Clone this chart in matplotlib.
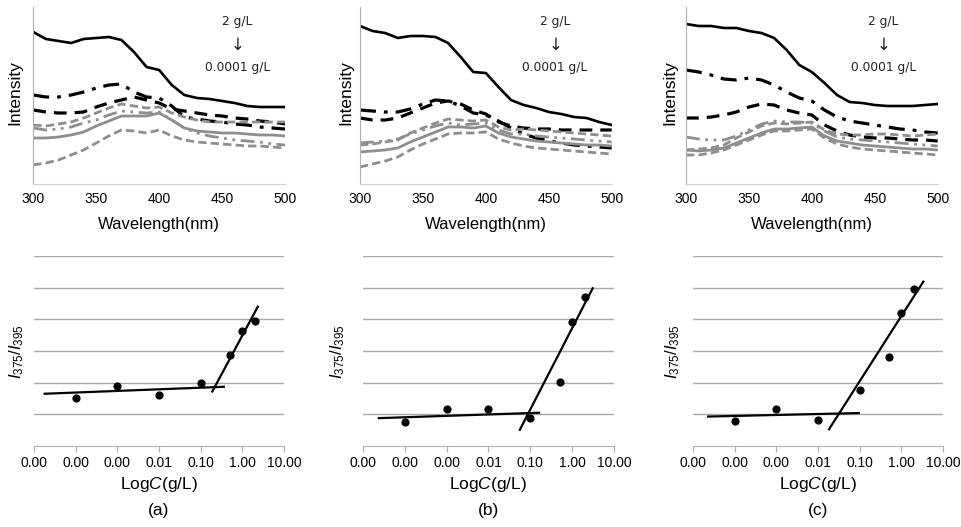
"""
Fluorescence spectra and I375/I395 ratio plots, three samples (a)-(c).
"""

import numpy as np
import matplotlib
matplotlib.use('Agg')
import matplotlib.pyplot as plt
from matplotlib.ticker import FixedLocator, FixedFormatter

plt.rcParams['font.family'] = ['Liberation Sans', 'DejaVu Sans']
plt.rcParams['mathtext.fontset'] = 'custom'
plt.rcParams['mathtext.rm'] = 'Liberation Sans'
plt.rcParams['mathtext.it'] = 'Liberation Sans:italic'

W, H = 962, 527

# ---- spectra data (arbitrary intensity units) ----
wavelength = [300, 310, 320, 330, 340, 350, 360, 370, 380, 390, 400,
              410, 420, 430, 440, 450, 460, 470, 480, 490, 500]

# order: 2, 1, 0.5, 0.1, 0.01, 0.001, 0.0001 g/L
spec_a = [
    [152, 145, 143, 141, 145, 146, 147, 144, 132, 117, 114, 99, 89, 86, 85, 83, 81, 78, 77, 77, 77],
    [89, 87, 87, 89, 92, 96, 99, 100, 92, 87, 86, 78, 67, 65, 63, 62, 60, 59, 57, 56, 55],
    [74, 72, 71, 71, 72, 77, 81, 84, 87, 84, 81, 75, 73, 71, 69, 68, 66, 65, 63, 62, 60],
    [59, 58, 60, 62, 66, 71, 76, 80, 78, 76, 77, 71, 67, 64, 62, 62, 62, 62, 62, 62, 62],
    [56, 54, 55, 57, 61, 64, 69, 73, 72, 71, 72, 64, 56, 51, 48, 46, 44, 43, 42, 40, 39],
    [46, 46, 47, 49, 52, 58, 63, 68, 68, 68, 71, 64, 56, 53, 52, 51, 51, 50, 49, 49, 48],
    [19, 21, 24, 29, 34, 41, 48, 54, 53, 51, 54, 48, 44, 42, 41, 40, 39, 38, 38, 37, 36],
]
spec_b = [
    [158, 153, 151, 146, 148, 148, 147, 141, 127, 112, 111, 97, 84, 79, 76, 72, 70, 67, 66, 62, 59],
    [74, 73, 72, 72, 75, 80, 84, 83, 78, 71, 69, 63, 56, 50, 46, 43, 41, 39, 38, 37, 36],
    [66, 64, 64, 66, 71, 76, 81, 83, 80, 74, 70, 62, 58, 56, 55, 55, 54, 54, 54, 54, 54],
    [39, 40, 42, 44, 51, 56, 61, 65, 64, 63, 64, 57, 54, 55, 54, 53, 52, 51, 50, 49, 48],
    [41, 42, 43, 45, 50, 54, 58, 61, 59, 60, 61, 54, 50, 50, 48, 47, 46, 45, 44, 43, 42],
    [32, 33, 34, 36, 42, 47, 52, 57, 57, 56, 58, 51, 47, 45, 43, 42, 41, 40, 39, 39, 38],
    [17, 20, 23, 27, 34, 40, 45, 50, 51, 51, 52, 45, 41, 38, 36, 35, 34, 33, 32, 31, 30],
]
spec_c = [
    [160, 158, 158, 156, 156, 153, 151, 146, 134, 119, 112, 101, 89, 82, 81, 79, 78, 78, 78, 79, 80],
    [114, 112, 109, 105, 104, 106, 104, 99, 92, 86, 83, 74, 67, 63, 61, 59, 57, 55, 54, 52, 51],
    [66, 66, 67, 69, 72, 77, 80, 79, 74, 71, 69, 59, 53, 49, 47, 46, 46, 45, 44, 44, 43],
    [34, 35, 36, 39, 46, 52, 58, 61, 60, 61, 62, 54, 50, 49, 49, 50, 50, 49, 48, 49, 50],
    [47, 45, 44, 44, 48, 54, 60, 63, 62, 62, 61, 53, 47, 45, 44, 43, 42, 41, 40, 39, 38],
    [34, 33, 34, 36, 41, 46, 51, 55, 55, 56, 57, 48, 43, 41, 39, 38, 37, 36, 35, 35, 34],
    [29, 29, 31, 34, 39, 44, 49, 53, 53, 54, 55, 46, 40, 37, 35, 34, 33, 32, 31, 30, 29],
]
label_wl = [462, 455, 457]   # position of "2 g/L -> 0.0001 g/L" note

# ---- ratio data ----
conc = [0.0001, 0.001, 0.01, 0.1, 0.5, 1, 2]
ratio_a = [1.53, 1.91, 1.61, 1.99, 2.86, 3.63, 3.94]
ratio_b = [0.76, 1.16, 1.18, 0.89, 2.01, 3.92, 4.69]
ratio_c = [0.78, 1.16, 0.82, 1.78, 2.80, 4.19, 4.95]

# fitted line end points (conc, ratio)
fit_low_x = [[1.8e-5, 0.36], [2.4e-5, 0.162], [2.3e-5, 0.095]]
fit_low_y = [[1.65, 1.87], [0.88, 1.05], [0.93, 1.04]]
fit_high_x = [[0.19, 2.35], [0.056, 3.09], [0.0184, 3.37]]
fit_high_y = [[1.72, 4.40], [0.51, 4.98], [0.53, 5.19]]

xtick_vals = [1e-5, 1e-4, 1e-3, 1e-2, 1e-1, 1, 10]
xtick_labels = ['0.00', '0.00', '0.00', '0.01', '0.10', '1.00', '10.00']
panel_names = ['(a)', '(b)', '(c)']

GRAY = '#8e8e8e'
styles = [
    dict(color='black', ls='-', lw=1.9),
    dict(color='black', ls=(0, (5, 2.5, 1.2, 2.5)), lw=2.3),
    dict(color='black', ls=(0, (4, 2.5)), lw=2.3),
    dict(color=GRAY, ls=(0, (3, 1.5)), lw=2.0),
    dict(color=GRAY, ls=(0, (5, 2, 1, 2, 1, 2)), lw=2.0),
    dict(color=GRAY, ls='-', lw=2.0),
    dict(color=GRAY, ls=(0, (3, 1.5)), lw=2.0),
]


def fig_rect(x0, y0, x1, y1):
    return [x0 / W, 1 - y1 / H, (x1 - x0) / W, (y1 - y0) / H]


def fig_pt(x, y):
    return x / W, 1 - y / H


fig = plt.figure(figsize=(W / 100, H / 100), dpi=100)

top_x = [33.3, 360, 686]
bot_x = [(34, 284), (363, 614), (693, 943)]
ylab_top = [15, 346, 670]
ylab_bot = [17, 338, 673]
spectra = [spec_a, spec_b, spec_c]
ratios = [ratio_a, ratio_b, ratio_c]

for i in range(3):
    # spectra panel
    ax = fig.add_axes(fig_rect(top_x[i], 7, top_x[i] + 251.7, 184))
    for curve, st in zip(spectra[i], styles):
        ax.plot(wavelength, curve, **st)
    ax.set_xlim(300, 500)
    ax.set_ylim(0, 177)
    ax.set_xticks([300, 350, 400, 450, 500])
    ax.set_yticks([])
    ax.tick_params(axis='x', length=0, pad=6, labelsize=10)
    for s in ['top', 'right']:
        ax.spines[s].set_visible(False)
    ax.spines['left'].set_color('#b0b0b0')
    ax.spines['bottom'].set_color('#d0d0d0')
    for yv, txt, fs in zip([162, 139, 117], ['2 g/L', '\u2193', '0.0001 g/L'],
                           [8.8, 12, 8.8]):
        ax.text(label_wl[i], yv, txt, ha='center', va='center', fontsize=fs,
                family=['DejaVu Sans'], color='#222222')
    cx = top_x[i] + 251.7 / 2
    fig.text(*fig_pt(cx, 225), 'Wavelength(nm)', ha='center', va='center', fontsize=12)
    fig.text(*fig_pt(ylab_top[i], 93), 'Intensity', ha='center', va='center',
             rotation=90, fontsize=12.5)

    # ratio panel
    x0, x1 = bot_x[i]
    bx = fig.add_axes(fig_rect(x0, 256, x1, 446))
    bx.set_xscale('log')
    bx.set_xlim(1e-5, 10)
    bx.set_ylim(0, 6)
    for g in range(1, 7):
        bx.axhline(g, color='#a8a8a8', lw=1.0, zorder=0)
    bx.plot(fit_low_x[i], fit_low_y[i], color='black', lw=1.6)
    bx.plot(fit_high_x[i], fit_high_y[i], color='black', lw=1.6)
    bx.scatter(conc, ratios[i], s=24, color='black', zorder=5)
    bx.xaxis.set_major_locator(FixedLocator(xtick_vals))
    bx.xaxis.set_major_formatter(FixedFormatter(xtick_labels))
    bx.xaxis.set_minor_locator(FixedLocator([]))
    bx.set_yticks([])
    bx.tick_params(axis='x', length=4, color='#b0b0b0', pad=3, labelsize=10)
    for s in ['top', 'right', 'left']:
        bx.spines[s].set_visible(False)
    bx.spines['bottom'].set_color('#b0b0b0')
    cx = (x0 + x1) / 2
    fig.text(*fig_pt(cx, 485), r'Log$C$(g/L)', ha='center', va='center', fontsize=12.5)
    fig.text(*fig_pt(cx, 511), panel_names[i], ha='center', va='center', fontsize=12.5)
    fig.text(*fig_pt(ylab_bot[i], 352), r'$I_{375}/I_{395}$', ha='center', va='center',
             rotation=90, fontsize=12)

plt.savefig('out.png', dpi=100)
plt.close()
